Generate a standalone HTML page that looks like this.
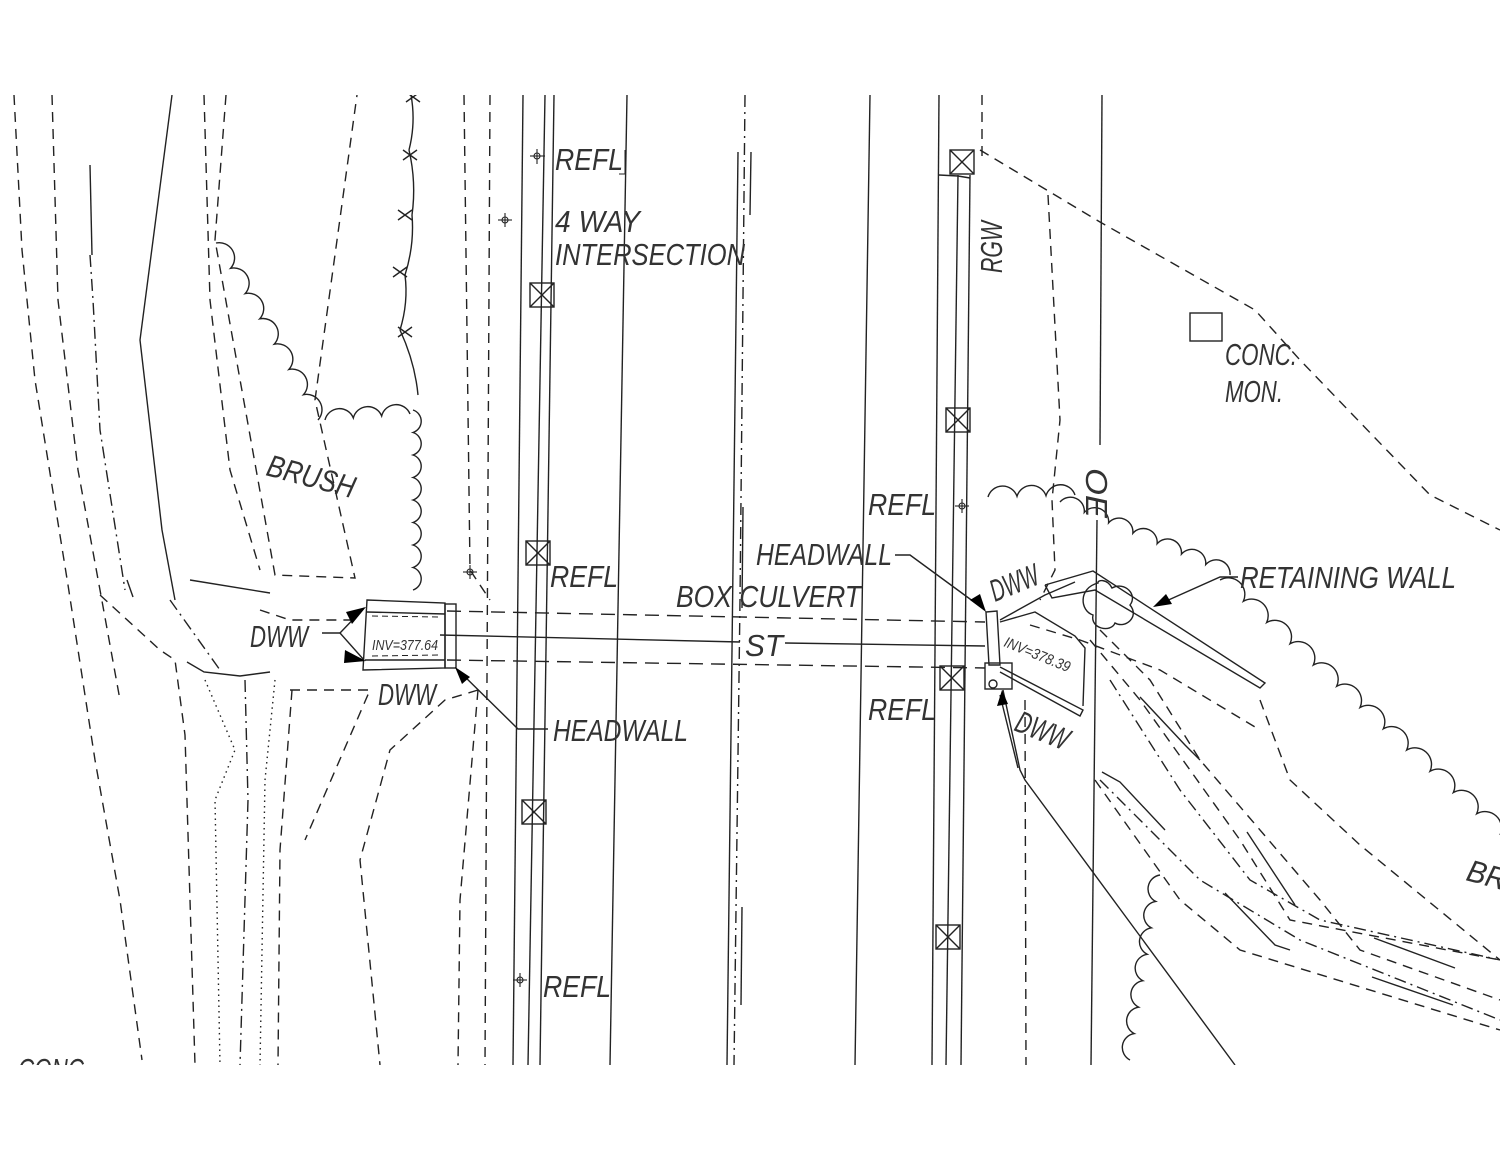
<!DOCTYPE html>
<html><head><meta charset="utf-8"><style>
html,body{margin:0;padding:0;background:#fff}
svg{display:block}
text{font-family:"Liberation Sans",sans-serif;font-style:italic;fill:#333;font-weight:normal}
</style></head><body>
<svg id="s" width="1500" height="1159" viewBox="0 0 1500 1159" xmlns="http://www.w3.org/2000/svg">
<defs><clipPath id="c"><rect x="0" y="95" width="1500" height="970"/></clipPath></defs>
<g clip-path="url(#c)" fill="none" stroke="#222" stroke-width="1.4">
<g stroke-dasharray="10,7">
<polyline points="14,95 22,250 35,380 68,585 95,760 120,900 142,1060"/>
<polyline points="52,95 58,300 78,470 100,590 120,700"/>
<polyline points="204,95 210,300 230,470 260,570"/>
<polyline points="226,95 215,240 275,575 355,578 315,400 357,95"/>
<polyline points="464,95 470,570 490,600"/>
<polyline points="490,95 485,1065"/>
<polyline points="100,595 160,650 175,660 185,735 190,900 195,1065"/>
<polyline points="260,610 290,620 355,620"/>
<polyline points="290,690 370,690 305,840"/>
<polyline points="478,690 445,700 390,750 360,860 380,1065"/>
<polyline points="478,690 460,900 458,1065"/>
<polyline points="292,690 280,850 278,1065"/>
</g>
<g stroke-dasharray="12,5,2,5">
<polyline points="90,255 93,300 100,430 125,590"/>
<polyline points="245,680 248,800 240,1065"/>
<polyline points="170,600 220,670"/>
<polyline points="745,95 740,600 734,1065"/>
</g>
<g stroke-dasharray="1.5,4">
<polyline points="205,680 235,750 215,800 220,1065"/>
<polyline points="275,680 265,780 260,1065"/>
</g>
<polyline points="172,95 140,340 162,530 175,600"/>
<line x1="90" y1="165" x2="92" y2="255"/>
<polyline points="127,580 133,597"/>
<polyline points="190,580 270,593"/>
<polyline points="187,662 204,672 240,676 270,672"/>
<line x1="523" y1="95" x2="513" y2="1065"/>
<line x1="545" y1="95" x2="528" y2="1065"/>
<line x1="554" y1="95" x2="540" y2="1065"/>
<line x1="627" y1="95" x2="610" y2="1065"/>
<line x1="738" y1="152" x2="727" y2="1065"/>
<line x1="751" y1="152" x2="750" y2="215"/>
<line x1="743" y1="507" x2="742" y2="608"/>
<line x1="742" y1="907" x2="741" y2="1005"/>
<line x1="870" y1="95" x2="855" y2="1065"/>
<line x1="939" y1="95" x2="932" y2="1065"/>
<line x1="958" y1="175" x2="946" y2="1065"/>
<line x1="970" y1="175" x2="961" y2="1065"/>
<polyline points="939,175 958,176 970,178"/>
<line x1="1102" y1="95" x2="1100" y2="445"/>
<line x1="1097" y1="520" x2="1091" y2="1065"/>
<g stroke-dasharray="10,7">
<polyline points="982,95 982,160"/>
<polyline points="980,150 1100,222 1255,310 1300,360 1430,495 1500,530"/>
<polyline points="1048,195 1060,420 1052,500 1055,570 1040,600"/>
<polyline points="1030,625 1080,640 1160,670 1260,730"/>
<polyline points="1100,630 1150,680 1200,760 1320,900 1360,950 1500,1000"/>
<polyline points="1090,640 1140,700 1240,840 1290,920 1500,960"/>
<polyline points="1260,700 1290,780 1360,845 1500,960"/>
<polyline points="1095,780 1180,900 1240,950 1500,1030"/>
<polyline points="1025,700 1026,1065"/>
</g>
<g stroke-dasharray="12,5,2,5">
<polyline points="1110,680 1180,790 1250,880 1320,920 1500,960"/>
<polyline points="1100,780 1200,880 1300,940 1500,1020"/>
</g>
<polyline points="1140,697 1185,745 1200,760"/>
<polyline points="1102,772 1120,782 1165,830"/>
<polyline points="1247,832 1295,905"/>
<polyline points="1225,893 1275,945 1290,950"/>
<polyline points="1374,938 1455,968"/>
<polyline points="1372,977 1453,1005"/>
<g id="bx"></g>
<g stroke-dasharray="14,8"><line x1="447" y1="611" x2="985" y2="622"/><line x1="447" y1="660" x2="985" y2="668"/></g>
<line x1="440" y1="635" x2="740" y2="642"/><line x1="785" y1="643" x2="985" y2="646"/>
<polygon points="367,600 445,603 445,668 363,670"/>
<line x1="367" y1="612" x2="445" y2="614"/><line x1="365" y1="660" x2="445" y2="660"/>
<g stroke-dasharray="6,4" stroke-width="1"><line x1="372" y1="616" x2="440" y2="617"/><line x1="372" y1="656" x2="440" y2="655"/></g>
<rect x="445" y="604" width="11" height="64"/>
<polygon points="986,612 997,611 1000,665 989,665"/>
<rect x="985" y="663" width="27" height="26"/>
<circle cx="993" cy="684" r="4"/>
<polyline points="1000,620 1045,595 1075,582"/>
<polyline points="1045,585 1093,571 1265,683 1260,688 1095,590 1052,598 1045,585"/>
<polyline points="1000,667 1083,710 1080,716 1000,672"/>
<polyline points="1000,622 1035,612 1075,636 1085,648 1083,706"/>
<polyline points="1003,690 1020,770 1025,780 1235,1065"/>
<path d="M1098,583 c-20,5 -18,28 -5,32 c-3,14 18,18 22,8 c10,6 25,-6 15,-18 c8,-10 -5,-24 -18,-17 c-5,-10 -15,-8 -14,-5z"/>
<polyline points="322,633 340,633"/><line x1="340" y1="633" x2="364" y2="608"/><line x1="340" y1="633" x2="364" y2="660"/>
<polyline points="548,729 518,729 458,670"/>
<polyline points="895,555 910,555 985,610"/>
<polyline points="1238,577 1220,577 1155,606"/>
<polyline points="1000,695 1018,768"/>
<g stroke-width="1.1">
<circle cx="537" cy="156" r="3"/><line x1="530" y1="156" x2="545" y2="156"/><line x1="537" y1="149" x2="537" y2="164"/>
<circle cx="505" cy="220" r="3"/><line x1="498" y1="220" x2="512" y2="220"/><line x1="505" y1="213" x2="505" y2="227"/>
<circle cx="470" cy="572" r="3"/><line x1="463" y1="572" x2="477" y2="572"/><line x1="470" y1="565" x2="470" y2="579"/>
<circle cx="962" cy="506" r="3"/><line x1="955" y1="506" x2="969" y2="506"/><line x1="962" y1="499" x2="962" y2="513"/>
<circle cx="520" cy="980" r="3"/><line x1="513" y1="980" x2="527" y2="980"/><line x1="520" y1="973" x2="520" y2="987"/>
</g>
<rect x="1190" y="313" width="32" height="28"/>
<g id="scal"></g>
<polyline points="619,174 625,174 625,150" stroke-width="1"/>
</g>
<g fill="#000" stroke="none">
<polygon points="366,607 346,612 352,624"/>
<polygon points="366,661 345,650 344,663"/>
<polygon points="455,667 470,677 462,684"/>
<polygon points="986,612 970,600 980,594"/>
<polygon points="1153,607 1166,594 1172,604"/>
<polygon points="1002,690 997,706 1008,704"/>
</g>
<g font-size="31">
<text x="555" y="170" textLength="68" lengthAdjust="spacingAndGlyphs">REFL</text>
<text x="555" y="232" textLength="85" lengthAdjust="spacingAndGlyphs">4 WAY</text>
<text x="555" y="265" textLength="190" lengthAdjust="spacingAndGlyphs">INTERSECTION</text>
<text x="868" y="515" textLength="68" lengthAdjust="spacingAndGlyphs">REFL</text>
<text x="550" y="587" textLength="68" lengthAdjust="spacingAndGlyphs">REFL</text>
<text x="868" y="720" textLength="68" lengthAdjust="spacingAndGlyphs">REFL</text>
<text x="543" y="997" textLength="68" lengthAdjust="spacingAndGlyphs">REFL</text>
<text x="756" y="565" textLength="136" lengthAdjust="spacingAndGlyphs">HEADWALL</text>
<text x="676" y="607" textLength="185" lengthAdjust="spacingAndGlyphs">BOX CULVERT</text>
<text x="1240" y="588" textLength="216" lengthAdjust="spacingAndGlyphs">RETAINING WALL</text>
<text x="553" y="741" textLength="135" lengthAdjust="spacingAndGlyphs">HEADWALL</text>
<text x="250" y="647" textLength="58" lengthAdjust="spacingAndGlyphs">DWW</text>
<text x="378" y="705" textLength="58" lengthAdjust="spacingAndGlyphs">DWW</text>
<text x="745" y="656" textLength="38" lengthAdjust="spacingAndGlyphs">ST</text>
<text x="1225" y="365" textLength="72" lengthAdjust="spacingAndGlyphs">CONC.</text>
<text x="1225" y="402" textLength="58" lengthAdjust="spacingAndGlyphs">MON.</text>
<text x="18" y="1080" textLength="66" lengthAdjust="spacingAndGlyphs">CONC</text>
<text transform="translate(265,475) rotate(15)" textLength="90" lengthAdjust="spacingAndGlyphs">BRUSH</text>
<text transform="translate(1002,273) rotate(-90)" textLength="52" lengthAdjust="spacingAndGlyphs">RGW</text>
<text transform="translate(1086,468) rotate(90)" textLength="50" lengthAdjust="spacingAndGlyphs">OE</text>
<text transform="translate(995,602) rotate(-22)" textLength="50" lengthAdjust="spacingAndGlyphs">DWW</text>
<text transform="translate(1013,730) rotate(22)" textLength="55" lengthAdjust="spacingAndGlyphs">DWW</text>
<text transform="translate(1465,880) rotate(15)" textLength="40" lengthAdjust="spacingAndGlyphs">BR</text>
</g>
<g font-size="15">
<text x="372" y="650" textLength="66" lengthAdjust="spacingAndGlyphs">INV=377.64</text>
<text transform="translate(1003,646) rotate(22)" textLength="70" lengthAdjust="spacingAndGlyphs">INV=378.39</text>
</g>
<rect x="0" y="1065" width="1500" height="94" fill="#fff"/>
</svg>
<script>
var ns="http://www.w3.org/2000/svg";
function add(p,tag,a){var e=document.createElementNS(ns,tag);for(var k in a)e.setAttribute(k,a[k]);p.appendChild(e);return e;}
var bx=document.getElementById('bx');
[[542,295],[538,553],[534,812],[962,162],[958,420],[952,678],[948,937]].forEach(function(c){
 var x=c[0]-12,y=c[1]-12;add(bx,'rect',{x:x,y:y,width:24,height:24});
 add(bx,'line',{x1:x,y1:y,x2:x+24,y2:y+24});add(bx,'line',{x1:x+24,y1:y,x2:x,y2:y+24});});
var sc=document.getElementById('scal');
function scal(pts,n,sw){var d="M"+pts[0]+","+pts[1];var dx=(pts[2]-pts[0])/n,dy=(pts[3]-pts[1])/n;var r=Math.sqrt(dx*dx+dy*dy)/2*1.05;
 for(var i=0;i<n;i++)d+=" a"+r+","+r+" 0 0 "+sw+" "+dx+","+dy;add(sc,'path',{d:d});}
scal([216,243,318,420],7,1);
scal([325,420,410,414],3,1);
scal([413,410,413,590],8,1);
scal([988,497,1075,495],3,1);
scal([1060,502,1230,575],7,1);
scal([1220,580,1500,835],12,1);
scal([1160,875,1130,1060],7,0);
var ws=[[411,95,409,150],[409,150,412,215],[412,215,405,275],[405,275,400,330],[400,330,418,395]];
ws.forEach(function(w){add(sc,'path',{d:"M"+w[0]+","+w[1]+" q"+((w[2]-w[0])/2+6)+","+((w[3]-w[1])/2)+" "+(w[2]-w[0])+","+(w[3]-w[1])});});
[[413,97],[410,155],[405,215],[400,272],[405,332]].forEach(function(p){
 add(sc,'path',{d:"M"+(p[0]-7)+","+(p[1]-5)+" L"+(p[0]+7)+","+(p[1]+5)+" M"+(p[0]-7)+","+(p[1]+5)+" L"+(p[0]+7)+","+(p[1]-5)});});
</script>
</body></html>
